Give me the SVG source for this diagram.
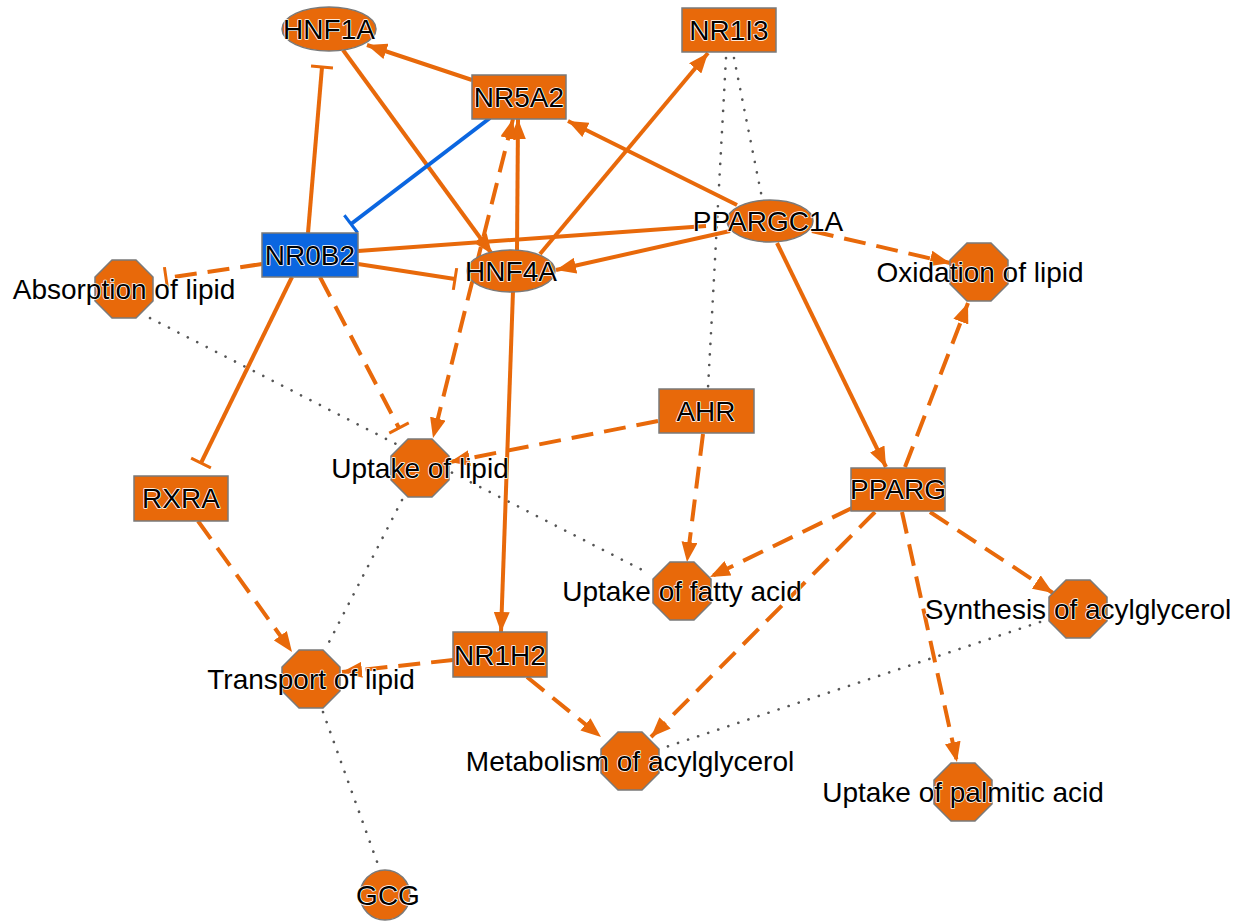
<svg xmlns="http://www.w3.org/2000/svg" xmlns:xlink="http://www.w3.org/1999/xlink" width="1254" height="921" viewBox="0 0 1254 921">
<style>
.e{fill:none;stroke:#E8690A;stroke-width:4}
.d{stroke-dasharray:22 11}
.b{stroke:#0B66E0}
.dot{fill:none;stroke:#555;stroke-width:2.6;stroke-dasharray:0.1 10.5;stroke-linecap:round}
.n{fill:#E8690A;stroke:#7A7A7A;stroke-width:1.5}
.nb{fill:#0B66E0;stroke:#7A7A7A;stroke-width:1.5}
text{font-family:"Liberation Sans",Arial,sans-serif;font-size:28px;fill:#000;text-anchor:middle;stroke:#fff;stroke-width:1.6px;paint-order:stroke;stroke-linejoin:round}
</style>
<defs>
<marker id="ar" markerUnits="userSpaceOnUse" viewBox="0 0 20 16" refX="20" refY="8" markerWidth="20" markerHeight="16" orient="auto"><path d="M0,0L20,8L0,16z" fill="#E8690A"/></marker>
<marker id="ars" markerUnits="userSpaceOnUse" viewBox="0 0 20 16" refX="20" refY="8" markerWidth="20" markerHeight="16" orient="auto-start-reverse"><path d="M0,0L20,8L0,16z" fill="#E8690A"/></marker>
<marker id="tb" markerUnits="userSpaceOnUse" viewBox="-2 -12 4 24" refX="0" refY="0" markerWidth="4" markerHeight="24" orient="auto"><path d="M0,-11V11" stroke="#E8690A" stroke-width="3"/></marker>
<marker id="tbb" markerUnits="userSpaceOnUse" viewBox="-2 -12 4 24" refX="0" refY="0" markerWidth="4" markerHeight="24" orient="auto"><path d="M0,-11V11" stroke="#0B66E0" stroke-width="3"/></marker>
<polygon id="oct" points="-12,-29 12,-29 29,-12 29,12 12,29 -12,29 -29,12 -29,-12"/>
</defs>
<g id="connectors">
<line class="dot" x1="734" y1="58" x2="762" y2="198"/>
<line class="dot" x1="726" y1="58" x2="708" y2="388"/>
<line class="dot" x1="150" y1="318" x2="650" y2="574"/>
<line class="dot" x1="402" y1="500" x2="326" y2="648"/>
<line class="dot" x1="323" y1="712" x2="380" y2="870"/>
<line class="dot" x1="1040" y1="622" x2="660" y2="749"/>
<line class="e" x1="472" y1="80" x2="367" y2="45" marker-end="url(#ar)"/>
<line class="e" x1="343" y1="50" x2="492" y2="254" marker-end="url(#ar)"/>
<line class="e" x1="308" y1="233" x2="322" y2="67" marker-end="url(#tb)"/>
<line class="e b" x1="490" y1="118" x2="351" y2="224" marker-end="url(#tbb)"/>
<line class="e d" x1="262" y1="264" x2="166" y2="278" marker-end="url(#tb)"/>
<line class="e" x1="358" y1="264" x2="455" y2="279" marker-end="url(#tb)"/>
<line class="e" x1="358" y1="251" x2="706" y2="226"/>
<line class="e" x1="730" y1="231" x2="556" y2="270" marker-end="url(#ar)"/>
<line class="e" x1="737" y1="205" x2="568" y2="121" marker-end="url(#ar)"/>
<line class="e" x1="540" y1="254" x2="708" y2="53" marker-end="url(#ar)"/>
<line class="e" x1="517" y1="250" x2="518" y2="119" marker-end="url(#ar)"/>
<line class="e d" x1="513" y1="119" x2="433" y2="438" marker-start="url(#ars)" marker-end="url(#ar)"/>
<line class="e d" x1="812" y1="231" x2="950" y2="263" marker-end="url(#ar)"/>
<line class="e" x1="777" y1="243" x2="886" y2="467" marker-end="url(#ar)"/>
<line class="e" x1="292" y1="277" x2="201" y2="463" marker-end="url(#tb)"/>
<line class="e d" x1="320" y1="277" x2="399" y2="428" marker-end="url(#tb)"/>
<line class="e d" x1="658" y1="421" x2="450" y2="462" marker-end="url(#ar)"/>
<line class="e d" x1="703" y1="434" x2="687" y2="562" marker-end="url(#ar)"/>
<line class="e" x1="513" y1="291" x2="501" y2="632" marker-end="url(#ar)"/>
<line class="e d" x1="198" y1="521" x2="292" y2="652" marker-end="url(#ar)"/>
<line class="e d" x1="453" y1="660" x2="342" y2="672" marker-end="url(#ar)"/>
<line class="e d" x1="527" y1="677" x2="601" y2="737" marker-end="url(#ar)"/>
<line class="e d" x1="875" y1="512" x2="651" y2="737" marker-end="url(#ar)"/>
<line class="e d" x1="852" y1="508" x2="710" y2="577" marker-end="url(#ar)"/>
<line class="e d" x1="905" y1="467" x2="968" y2="303" marker-end="url(#ar)"/>
<line class="e d" x1="930" y1="512" x2="1053" y2="593" marker-end="url(#ar)"/>
<line class="e d" x1="902" y1="512" x2="957" y2="762" marker-end="url(#ar)"/>
</g>
<g id="HNF1A"><ellipse class="n" cx="329" cy="29" rx="47" ry="22"/><text x="329" y="39">HNF1A</text></g>
<g id="NR5A2"><rect class="n" x="472" y="75" width="94" height="44"/><text x="519" y="107">NR5A2</text></g>
<g id="NR1I3"><rect class="n" x="682" y="8" width="94" height="44"/><text x="729" y="40">NR1I3</text></g>
<g id="PPARGC1A"><ellipse class="n" cx="770" cy="221" rx="43" ry="21"/><text x="768" y="231">PPARGC1A</text></g>
<g id="NR0B2"><rect class="nb" x="262" y="233" width="96" height="44"/><text x="310" y="265">NR0B2</text></g>
<g id="HNF4A"><ellipse class="n" cx="511" cy="271" rx="44" ry="21"/><text x="511" y="281">HNF4A</text></g>
<g id="AbsorptionOfLipid"><use href="#oct" class="n" x="124" y="289"/><text x="124" y="299">Absorption of lipid</text></g>
<g id="OxidationOfLipid"><use href="#oct" class="n" x="979" y="272"/><text x="980" y="282">Oxidation of lipid</text></g>
<g id="AHR"><rect class="n" x="659" y="389" width="95" height="44"/><text x="706" y="421">AHR</text></g>
<g id="UptakeOfLipid"><use href="#oct" class="n" x="420" y="468"/><text x="420" y="478">Uptake of lipid</text></g>
<g id="RXRA"><rect class="n" x="134" y="476" width="94" height="45"/><text x="181" y="508">RXRA</text></g>
<g id="PPARG"><rect class="n" x="851" y="468" width="94" height="43"/><text x="898" y="499">PPARG</text></g>
<g id="UptakeOfFattyAcid"><use href="#oct" class="n" x="682" y="591"/><text x="682" y="601">Uptake of fatty acid</text></g>
<g id="SynthesisOfAcylglycerol"><use href="#oct" class="n" x="1078" y="609"/><text x="1078" y="619">Synthesis of acylglycerol</text></g>
<g id="NR1H2"><rect class="n" x="453" y="632" width="94" height="45"/><text x="500" y="665">NR1H2</text></g>
<g id="TransportOfLipid"><use href="#oct" class="n" x="311" y="679"/><text x="311" y="689">Transport of lipid</text></g>
<g id="MetabolismOfAcylglycerol"><use href="#oct" class="n" x="630" y="761"/><text x="630" y="771">Metabolism of acylglycerol</text></g>
<g id="UptakeOfPalmiticAcid"><use href="#oct" class="n" x="963" y="792"/><text x="963" y="802">Uptake of palmitic acid</text></g>
<g id="GCG"><circle class="n" cx="385" cy="895" r="25"/><text x="388" y="905">GCG</text></g>
</svg>
